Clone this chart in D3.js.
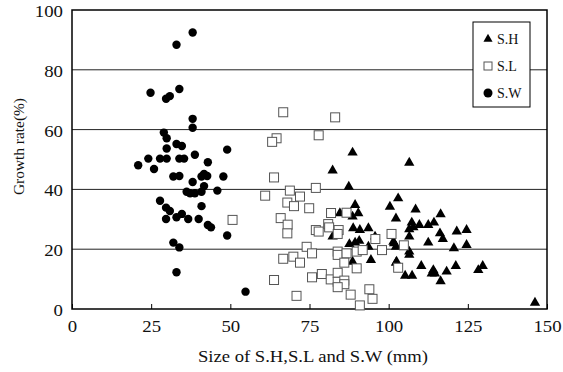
<!DOCTYPE html>
<html>
<head>
<meta charset="utf-8">
<script src="https://cdn.jsdelivr.net/npm/d3@7"></script>
<style>
  body { margin: 0; background: #fff; }
  text { font-family: "Liberation Serif", "Times New Roman", serif; }
</style>
</head>
<body>
<svg id="chart" width="563" height="372"></svg>
<script>
// S.H (triangles): [size mm, growth %]
const shPoints = [
  [88.6, 52.3], [82.3, 46.3], [87.4, 40.9], [89.4, 34.8], [90.4, 32.0], [84.6, 32.0],
  [88.6, 30.9], [88.8, 27.0], [90.9, 26.4], [93.6, 27.0], [82.3, 24.2], [95.7, 24.2],
  [87.6, 21.7], [89.4, 22.2], [90.7, 22.8], [93.6, 20.8], [94.4, 16.4], [88.6, 15.8],
  [100.4, 34.2], [103.0, 37.0], [102.3, 30.3], [101.5, 22.5], [102.5, 15.8],
  [106.5, 48.9], [108.5, 33.3], [116.4, 31.7], [107.3, 28.9], [109.7, 28.1], [112.5, 28.1],
  [114.3, 28.9], [106.5, 26.7], [107.8, 27.3], [121.5, 25.9], [124.6, 26.4], [116.2, 25.3],
  [117.1, 23.4], [106.5, 24.2], [112.5, 22.2], [101.7, 22.0], [102.3, 20.8], [106.5, 19.2],
  [106.5, 18.1], [120.6, 20.3], [124.6, 21.4], [102.3, 15.5], [110.3, 14.4], [105.2, 11.1],
  [107.4, 11.1], [114.1, 13.0], [113.6, 11.9], [114.6, 11.9], [116.4, 9.3], [118.3, 12.5],
  [121.2, 14.4], [128.3, 13.0], [129.7, 14.4], [146.2, 2.1]
];

// S.L (open squares)
const slPoints = [
  [66.7, 65.8], [83.1, 64.1], [64.6, 57.1], [63.2, 55.9], [77.9, 58.1], [63.8, 44.0],
  [68.8, 39.6], [77.0, 40.5], [61.0, 37.9], [72.0, 37.6], [68.0, 35.6], [70.1, 34.4],
  [74.9, 33.7], [65.9, 30.4], [68.1, 28.2], [68.0, 25.3], [81.8, 32.1], [86.7, 32.2],
  [80.9, 28.4], [81.2, 27.3], [77.0, 26.4], [77.9, 25.9], [84.2, 26.4], [83.9, 25.1],
  [100.9, 25.1], [95.8, 23.4], [74.1, 20.8], [75.8, 18.6], [83.9, 19.2], [83.9, 18.1],
  [86.7, 18.6], [89.9, 19.2], [91.8, 19.7], [97.9, 19.7], [66.7, 16.8], [69.9, 17.5],
  [72.0, 15.5], [86.0, 15.5], [89.9, 13.6], [103.0, 13.8], [63.8, 9.7], [75.8, 10.6],
  [78.9, 11.7], [81.7, 9.9], [83.9, 12.1], [83.9, 9.1], [86.0, 9.5], [86.0, 8.3],
  [83.9, 7.3], [70.9, 4.4], [88.0, 4.8], [93.9, 6.6], [94.9, 3.4], [90.9, 1.2],
  [104.8, 21.3], [50.7, 29.8]
];

// S.W (filled circles)
const swPoints = [
  [38.1, 92.5], [33.0, 88.4], [24.8, 72.3], [29.7, 70.3], [30.9, 71.2], [33.9, 73.6],
  [38.1, 63.6], [38.1, 60.6], [29.0, 59.0], [29.9, 57.1], [33.0, 55.2], [34.7, 54.5],
  [29.9, 53.7], [49.0, 53.3], [38.8, 51.6], [24.1, 50.3], [27.8, 50.3], [29.9, 50.3],
  [33.9, 50.3], [35.4, 50.3], [42.9, 49.1], [20.9, 48.1], [25.9, 46.8], [32.0, 44.3],
  [33.9, 44.5], [41.7, 45.2], [42.7, 44.5], [40.9, 44.3], [47.8, 44.3], [38.1, 42.5],
  [41.7, 41.1], [36.2, 39.2], [37.3, 38.7], [38.8, 38.7], [40.9, 39.2], [45.9, 39.6],
  [27.8, 36.2], [29.7, 33.9], [30.9, 32.8], [40.9, 34.4], [29.7, 30.1], [33.0, 30.7],
  [34.7, 31.8], [36.7, 30.1], [40.0, 30.1], [42.9, 28.1], [43.9, 27.3], [49.0, 24.6],
  [32.0, 22.2], [33.9, 20.6], [33.0, 12.3], [54.8, 5.8]
];

const xTicks = [0, 25, 50, 75, 100, 125, 150];
const yTicks = [0, 20, 40, 60, 80, 100];
const legendItems = ['S.H', 'S.L', 'S.W'];

const margin = { top: 10, right: 16, bottom: 63, left: 72 };
const width = 563 - margin.left - margin.right;
const height = 372 - margin.top - margin.bottom;

const svg = d3.select('#chart');
const g = svg.append('g').attr('transform', `translate(${margin.left},${margin.top})`);

const x = d3.scaleLinear().domain([0, 150]).range([0, width]);
const y = d3.scaleLinear().domain([0, 100]).range([height, 0]);

// the source picture is a bit wider than tall, so digits get stretched
const digitWidth = 9.4;

// gridlines
g.append('g')
  .selectAll('line')
  .data(yTicks.filter((t) => t > 0 && t < 100))
  .enter()
  .append('line')
  .attr('x1', 0)
  .attr('x2', width)
  .attr('y1', (d) => y(d))
  .attr('y2', (d) => y(d))
  .attr('stroke', '#222')
  .attr('stroke-width', 1);

// frame
g.append('rect')
  .attr('width', width)
  .attr('height', height)
  .attr('fill', 'none')
  .attr('stroke', '#000')
  .attr('stroke-width', 1.5);

// x axis (ticks point inward)
const xAxis = g
  .append('g')
  .attr('transform', `translate(0,${height})`)
  .call(d3.axisBottom(x).tickValues(xTicks).tickSize(-5).tickPadding(0))
  .call((a) => a.select('.domain').remove());
xAxis.selectAll('line').attr('stroke', '#000');
xAxis.selectAll('text')
  .attr('dy', null)
  .attr('y', 23)
  .attr('textLength', (d) => String(d).length * digitWidth)
  .attr('lengthAdjust', 'spacingAndGlyphs')
  .style('font-size', '16px')
  .attr('fill', '#111');

const yAxis = g
  .append('g')
  .call(d3.axisLeft(y).tickValues(yTicks).tickSize(0).tickPadding(9))
  .call((a) => a.select('.domain').remove());
yAxis.selectAll('text')
  .attr('dy', '0.4em')
  .attr('textLength', (d) => String(d).length * digitWidth)
  .attr('lengthAdjust', 'spacingAndGlyphs')
  .style('font-size', '16px')
  .attr('fill', '#111');

// axis titles
svg.append('text')
  .attr('x', 313)
  .attr('y', 362)
  .attr('text-anchor', 'middle')
  .attr('textLength', 230)
  .attr('lengthAdjust', 'spacingAndGlyphs')
  .attr('fill', '#111')
  .style('font-size', '16px')
  .text('Size of S.H,S.L and S.W (mm)');

svg.append('text')
  .attr('transform', 'translate(24,146.5) rotate(-90)')
  .attr('text-anchor', 'middle')
  .attr('textLength', 97)
  .attr('lengthAdjust', 'spacingAndGlyphs')
  .attr('fill', '#111')
  .style('font-size', '15px')
  .text('Growth rate(%)');

// points
const tri = d3.symbol().type(d3.symbolTriangle).size(46);

g.append('g')
  .selectAll('path')
  .data(shPoints)
  .enter()
  .append('path')
  .attr('d', tri)
  .attr('transform', (d) => `translate(${x(d[0])},${y(d[1])})`)
  .attr('fill', '#000');

g.append('g')
  .selectAll('rect')
  .data(slPoints)
  .enter()
  .append('rect')
  .attr('x', (d) => x(d[0]) - 4.5)
  .attr('y', (d) => y(d[1]) - 4.5)
  .attr('width', 9)
  .attr('height', 9)
  .attr('fill', '#fff')
  .attr('stroke', '#555')
  .attr('stroke-width', 1);

g.append('g')
  .selectAll('circle')
  .data(swPoints)
  .enter()
  .append('circle')
  .attr('cx', (d) => x(d[0]))
  .attr('cy', (d) => y(d[1]))
  .attr('r', 4.2)
  .attr('fill', '#000');

// legend
const legend = svg.append('g').attr('transform', 'translate(473,22)');
legend.append('rect')
  .attr('width', 57)
  .attr('height', 85)
  .attr('fill', '#fff')
  .attr('stroke', '#000')
  .attr('stroke-width', 1);

legendItems.forEach((name, i) => {
  const cy = 17 + i * 27;
  const item = legend.append('g').attr('transform', `translate(15,${cy})`);
  if (i === 0) {
    item.append('path').attr('d', d3.symbol().type(d3.symbolTriangle).size(36)).attr('fill', '#000');
  } else if (i === 1) {
    item.append('rect').attr('x', -4).attr('y', -4).attr('width', 8).attr('height', 8)
      .attr('fill', '#fff').attr('stroke', '#555');
  } else {
    item.append('circle').attr('r', 4.5).attr('fill', '#000');
  }
  item.append('text')
    .attr('x', 9)
    .attr('y', 5)
    .attr('fill', '#111')
    .style('font-size', '14px')
    .text(name);
});
</script>
</body>
</html>
